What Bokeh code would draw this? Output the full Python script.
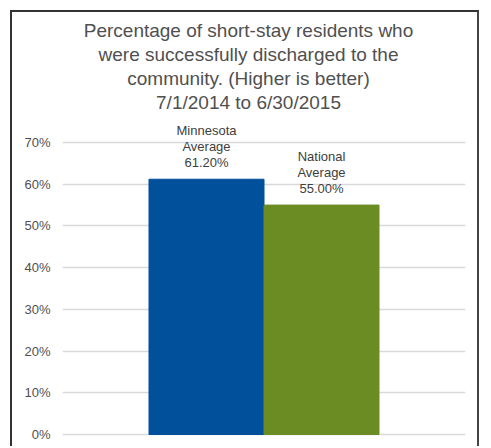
from bokeh.plotting import figure
from bokeh.models import Range1d, FixedTicker, NumeralTickFormatter, ColumnDataSource, Label
from bokeh.embed import file_html
from bokeh.resources import INLINE
from bokeh.core.properties import value

# ---- data ----
categories = ["Minnesota Average", "National Average"]
values = [0.612, 0.55]
value_labels = ["61.20%", "55.00%"]
bar_colors = ["#00509B", "#6B8C23"]
y_ticks = [0.0, 0.1, 0.2, 0.3, 0.4, 0.5, 0.6, 0.7]
title_lines = ["Percentage of short-stay residents who",
               "were successfully discharged to the",
               "community. (Higher is better)",
               "7/1/2014 to 6/30/2015"]

FONT = "Liberation Sans"

xs = list(range(len(categories)))
labels = [c.replace(" ", "\n") + "\n" + v for c, v in zip(categories, value_labels)]
src = ColumnDataSource(dict(x=xs, top=values, color=bar_colors, label=labels))

p = figure(width=469, height=436, output_backend="svg", toolbar_location=None,
           x_range=Range1d(-1.252, 2.252), y_range=Range1d(-0.0048, 1.0117),
           min_border_left=50, min_border_right=16, min_border_top=0,
           min_border_bottom=12,
           styles={"margin-left": "10px", "margin-top": "10px",
                   "border-left": "2px solid #333333",
                   "border-top": "2px solid #333333",
                   "border-right": "2px solid #444444"})
p.title.visible = False
p.outline_line_color = None
p.background_fill_color = "white"
p.border_fill_color = "white"

p.vbar(x="x", top="top", width=1.0, bottom=0, color="color", source=src)
p.text(x="x", y="top", text="label", source=src, text_align="center",
       text_baseline="bottom", y_offset=-9, text_font=value(FONT),
       text_font_size="13px", text_color="#404040", text_line_height=1.08)

# title lines (screen units relative to the plot frame)
for i, line in enumerate(title_lines):
    p.add_layout(Label(x=186, y=406 - 24 * i, x_units="screen", y_units="screen",
                       text=line, text_align="center", text_baseline="middle",
                       text_font=FONT, text_font_size="19px",
                       text_color="#505050"))

p.xaxis.visible = False
yax = p.yaxis[0]
yax.ticker = FixedTicker(ticks=y_ticks)
yax.formatter = NumeralTickFormatter(format="0%")
yax.axis_line_color = None
yax.major_tick_line_color = None
yax.minor_tick_line_color = None
yax.major_tick_out = 0
yax.major_tick_in = 0
yax.major_label_standoff = 12
yax.major_label_text_font = FONT
yax.major_label_text_font_size = "13px"
yax.major_label_text_color = "#505050"

p.xgrid.visible = False
p.ygrid.ticker = FixedTicker(ticks=y_ticks)
p.ygrid.grid_line_color = "#d9d9d9"
p.ygrid.grid_line_width = 1.5

open("out.html", "w").write(file_html(p, INLINE))
